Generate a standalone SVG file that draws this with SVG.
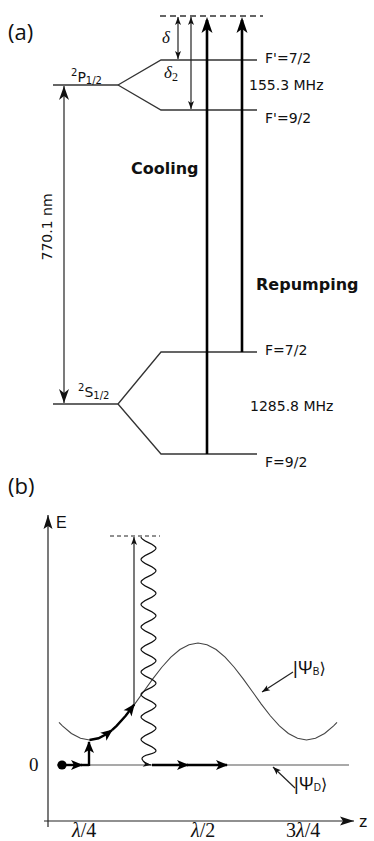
<svg xmlns="http://www.w3.org/2000/svg" width="374" height="841" viewBox="0 0 374 841">
<style>
.lvl{fill:none;stroke:#333;stroke-width:1.3}
.thin{fill:none;stroke:#222;stroke-width:1.2}
.thick{fill:none;stroke:#000;stroke-width:2.6}
.thickb{fill:none;stroke:#000;stroke-width:2.4}
.t{font-family:"DejaVu Sans",sans-serif;fill:#111}
.b{font-family:"DejaVu Sans",sans-serif;font-weight:bold;fill:#111}
.lab{font-family:"Open Sans","DejaVu Sans",sans-serif;fill:#111}
.ser{font-family:"Liberation Serif",serif;fill:#111}
.ar{font-family:"Liberation Sans","DejaVu Sans",sans-serif;fill:#111}
</style>
<defs>
<marker id="ahT" viewBox="-17 -6 18 12" markerWidth="18" markerHeight="12" refX="-3" refY="0" orient="auto" markerUnits="userSpaceOnUse"><path d="M0,0 L-16,-5.5 L-12,0 L-16,5.5 z" fill="#000"/></marker>
<marker id="ahS" viewBox="-9 -4 10 8" markerWidth="10" markerHeight="8" refX="0" refY="0" orient="auto-start-reverse" markerUnits="userSpaceOnUse"><path d="M0,0 L-8,-3 L-6,0 L-8,3 z" fill="#111"/></marker>
<marker id="ah7" viewBox="-15 -6 16 12" markerWidth="16" markerHeight="12" refX="0" refY="0" orient="auto-start-reverse" markerUnits="userSpaceOnUse"><path d="M0,0 L-14,-5 L-10,0 L-14,5 z" fill="#111"/></marker>
<marker id="ahB" viewBox="-13 -6 14 12" markerWidth="14" markerHeight="12" refX="-1" refY="0" orient="auto" markerUnits="userSpaceOnUse"><path d="M0,0 L-12,-5 L-9,0 L-12,5 z" fill="#000"/></marker>
<marker id="ahX" viewBox="-15 -5 16 10" markerWidth="16" markerHeight="10" refX="0" refY="0" orient="auto" markerUnits="userSpaceOnUse"><path d="M0,0 L-14,-4.5 L-11,0 L-14,4.5 z" fill="#111"/></marker>
</defs>

<g id="panel-a">
<text class="lab" x="8" y="40" font-size="22">(a)</text>
<g id="excited-virtual"><path class="lvl" d="M160,16 H263" stroke-dasharray="6 4"/></g>
<g id="P12"><path class="lvl" d="M53,85 H118"/>
<text class="t" x="71" y="82"><tspan font-size="10" dy="-6">2</tspan><tspan font-size="14" dy="6">P</tspan><tspan font-size="10" dy="2">1/2</tspan></text></g>
<g id="Fp72"><path class="lvl" d="M118,85 L161,60 H257"/><text class="t" x="265" y="63" font-size="14">F'=7/2</text></g>
<g id="Fp92"><path class="lvl" d="M118,85 L161,110 H257"/><text class="t" x="265" y="123" font-size="14">F'=9/2</text></g>
<text class="t" x="249" y="90" font-size="14">155.3 MHz</text>
<g id="S12"><path class="lvl" d="M53,404 H118"/>
<text class="t" x="78" y="397"><tspan font-size="10" dy="-6">2</tspan><tspan font-size="14" dy="6">S</tspan><tspan font-size="10" dy="2">1/2</tspan></text></g>
<g id="F72"><path class="lvl" d="M118,404 L161,352 H257"/><text class="t" x="265" y="355" font-size="14">F=7/2</text></g>
<g id="F92"><path class="lvl" d="M118,404 L161,454 H257"/><text class="t" x="265" y="467" font-size="14">F=9/2</text></g>
<text class="t" x="250" y="411" font-size="14">1285.8 MHz</text>
<text class="ser" x="162" y="43" font-size="17" font-style="italic">δ</text>
<text class="ser" x="164" y="78" font-size="17" font-style="italic">δ<tspan font-size="12" dy="3" font-style="normal">2</tspan></text>
<text class="b" x="131" y="174" font-size="16">Cooling</text>
<text class="b" x="256" y="290" font-size="16">Repumping</text>
<text class="t" font-size="14" text-anchor="middle" transform="translate(52,227) rotate(-90)">770.1 nm</text>
</g>

<g id="connectors-a">
<line class="thin" x1="178" y1="17" x2="178" y2="59" marker-start="url(#ahS)" marker-end="url(#ahS)"/>
<line class="thin" x1="191" y1="17" x2="191" y2="109" marker-start="url(#ahS)" marker-end="url(#ahS)"/>
<line class="thick" x1="207" y1="454" x2="207" y2="20" marker-end="url(#ahT)"/>
<line class="thick" x1="242" y1="352" x2="242" y2="20" marker-end="url(#ahT)"/>
<line class="thin" x1="64" y1="86" x2="64" y2="403" stroke-width="1.3" marker-start="url(#ah7)" marker-end="url(#ah7)"/>
</g>

<g id="panel-b">
<text class="lab" x="8" y="494" font-size="22">(b)</text>
<text class="ar" x="56" y="528" font-size="16">E</text>
<text class="ar" x="359" y="827" font-size="17">z</text>
<text class="ser" x="29" y="771" font-size="19">0</text>
<text class="ser" x="72" y="837" font-size="20"><tspan font-style="italic">λ</tspan>/4</text>
<text class="ser" x="191" y="837" font-size="20"><tspan font-style="italic">λ</tspan>/2</text>
<text class="ser" x="286" y="837" font-size="20">3<tspan font-style="italic">λ</tspan>/4</text>
<g id="psiB"><polyline fill="none" stroke="#444" stroke-width="1.1" points="59,722.3 62.4,725.8 71.4,733.5 80.5,738.3 89.5,740 98.5,738.3 107.6,733.5 116.6,725.8 125.7,715.75 134.7,704.05 143.7,691.5 152.8,678.95 161.8,667.25 170.9,657.2 179.9,649.5 189,644.7 198,643 207,644.7 216.1,649.5 225.1,657.2 234.2,667.25 243.2,678.95 252.3,691.5 261.3,704.05 270.3,715.75 279.4,725.8 288.4,733.5 297.5,738.3 306.5,740 315.5,738.3 324.6,733.5 333.6,725.8 337,722.3"/>
<text class="ar" x="293" y="674" font-size="18">|Ψ<tspan font-size="10" dy="1">B</tspan><tspan dy="-1" font-family="DejaVu Sans" font-size="16">⟩</tspan></text></g>
<g id="psiD"><path d="M57,765 H349" stroke="#555" stroke-width="1.2" fill="none"/>
<text class="ar" x="294" y="790" font-size="18">|Ψ<tspan font-size="10" dy="1">D</tspan><tspan dy="-1" font-family="DejaVu Sans" font-size="16">⟩</tspan></text></g>
<g id="virtual-b"><path d="M110,536 H160" stroke="#222" stroke-width="1" stroke-dasharray="4 3" fill="none"/></g>
<g id="atom"><circle cx="62" cy="765" r="4.6" fill="#000"/></g>
</g>

<g id="connectors-b">
<line class="thin" x1="48" y1="827" x2="48" y2="515" marker-end="url(#ahX)"/>
<line class="thin" x1="44" y1="821" x2="354" y2="821" marker-end="url(#ahX)"/>
<line class="thin" x1="134" y1="704" x2="134" y2="537" stroke-width="1.1" marker-end="url(#ahS)"/>
<path fill="none" stroke="#111" stroke-width="1.2" d="M141,537 C141,541.1 156,544.15 156,548.25 S141,555.4 141,559.5 S156,566.65 156,570.75 S141,577.9 141,582 S156,589.15 156,593.25 S141,600.4 141,604.5 S156,611.65 156,615.75 S141,622.9 141,627 S156,634.15 156,638.25 S141,645.4 141,649.5 S156,656.65 156,660.75 S141,667.9 141,672 S156,679.15 156,683.25 S141,690.4 141,694.5 S156,701.65 156,705.75 S141,712.9 141,717 S156,724.15 156,728.25 S141,735.4 141,739.5 S156,746.65 156,750.75 C156,755 141,754 142,759 Q144,764 151,765" marker-end="url(#ahS)"/>
<path class="thickb" d="M62,765 H82" marker-end="url(#ahB)"/>
<path class="thickb" d="M81,765 H89"/>
<path class="thickb" d="M89,766 V742" marker-end="url(#ahB)"/>
<polyline class="thickb" points="89.5,740 98.5,738.3 107.6,733.5 112,730.1" marker-end="url(#ahB)"/>
<polyline class="thickb" points="112,730.1 116.6,725.8 125.7,715.75 134.2,704.6" marker-end="url(#ahB)"/>
<path class="thickb" d="M152,765 H188" marker-end="url(#ahB)"/>
<path class="thickb" d="M187,765 H227" marker-end="url(#ahB)"/>
<line class="thin" x1="293" y1="672" x2="262" y2="692" stroke-width="1" marker-end="url(#ahS)"/>
<line class="thin" x1="295" y1="788" x2="273" y2="767" stroke-width="1" marker-end="url(#ahS)"/>
</g>
</svg>
